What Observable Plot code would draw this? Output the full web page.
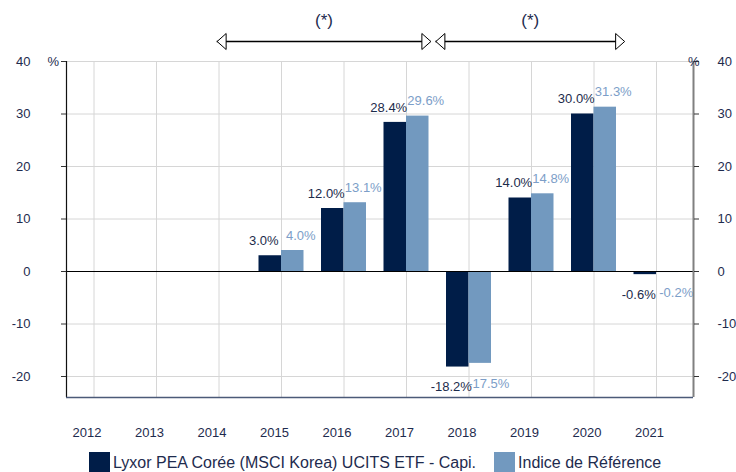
<!DOCTYPE html>
<html>
<head>
<meta charset="utf-8">
<script src="https://cdn.jsdelivr.net/npm/d3@7"></script>
<script src="https://cdn.jsdelivr.net/npm/@observablehq/plot@0.6"></script>
<style>
  html, body { margin: 0; padding: 0; background: #fff; overflow: hidden; }
  body { position: relative; width: 736px; height: 472px; font-family: "Liberation Sans", Arial, sans-serif; }
  #legend { position: absolute; left: 89px; top: 452px; display: flex; align-items: center; font-size: 16px; color: #1e2b4e; white-space: nowrap; }
  .sw { width: 21px; height: 22px; margin-right: 3px; }
  .item { display: flex; align-items: center; line-height: 22px; }
</style>
</head>
<body>
<div id="chart"></div>
<div id="legend"></div>
<script>
// ---- data ----
const years = [2012, 2013, 2014, 2015, 2016, 2017, 2018, 2019, 2020, 2021];
const fund = [null, null, null, 3.0, 12.0, 28.4, -18.2, 14.0, 30.0, -0.6];
const benchmark = [null, null, null, 4.0, 13.1, 29.6, -17.5, 14.8, 31.3, -0.2];
const seriesNames = ["Lyxor PEA Corée (MSCI Korea) UCITS ETF - Capi.", "Indice de Référence"];
const yTicks = [-20, -10, 0, 10, 20, 30, 40];
const yDomain = [-24, 40];
const xDomain = [2011.56, 2021.592];
const arrows = [
  {start: 2013.97, end: 2017.39, label: "(*)"},
  {start: 2017.47, end: 2020.49, label: "(*)"}
];

// ---- styles ----
const darkColor = "#001d48";
const lightColor = "#7299bf";
const darkText = "#1c2b4b";
const lightText = "#7c9ec8";
const navy = "#1e2b4e";
const barW = 0.36;

const rows = years.map((year, i) => ({year, fund: fund[i], benchmark: benchmark[i]}))
  .filter(d => d.fund != null);

const leftHead = {draw(ctx) { ctx.moveTo(0, 0); ctx.lineTo(9, -8); ctx.lineTo(9, 8); ctx.closePath(); }};
const rightHead = {draw(ctx) { ctx.moveTo(0, 0); ctx.lineTo(-9, -8); ctx.lineTo(-9, 8); ctx.closePath(); }};
const fmt = v => v.toFixed(1) + "%";
const tickFmt = d => String(d);

const chart = Plot.plot({
  width: 736,
  height: 445,
  marginTop: 61,
  marginBottom: 48,
  marginLeft: 66,
  marginRight: 43,
  style: {fontFamily: "'Liberation Sans', Arial, sans-serif", fontSize: "13px", background: "#fff"},
  x: {type: "linear", domain: xDomain, label: null},
  y: {domain: yDomain, label: null},
  marks: [
    Plot.gridY({ticks: yTicks, stroke: "#d6d6d6", strokeOpacity: 1}),
    Plot.gridX({ticks: years, stroke: "#d6d6d6", strokeOpacity: 1}),
    Plot.rect(rows, {x1: d => d.year - barW, x2: d => d.year, y1: d => 0, y2: "fund", fill: darkColor}),
    Plot.rect(rows, {x1: d => d.year, x2: d => d.year + barW, y1: d => 0, y2: "benchmark", fill: lightColor}),
    Plot.ruleY([0], {stroke: "#000", strokeWidth: 1}),
    Plot.ruleX([xDomain[0]], {y1: yDomain[0], y2: yDomain[1], stroke: "#111", strokeWidth: 1.2}),
    Plot.ruleX([xDomain[1]], {y1: yDomain[0], y2: yDomain[1], stroke: "#808080", strokeWidth: 2}),
    Plot.ruleY([yDomain[0]], {stroke: "#4b5a78", strokeWidth: 1.5}),
    Plot.axisY({anchor: "left", ticks: yTicks, tickFormat: tickFmt, tickSize: 5, tickPadding: 31, fill: navy, stroke: "#333", fontSize: 13}),
    Plot.axisY({anchor: "right", ticks: yTicks, tickFormat: tickFmt, tickSize: 5, tickPadding: 19, fill: navy, stroke: "#333", fontSize: 13}),
    Plot.axisX({ticks: years, tickFormat: tickFmt, tickSize: 0, tickPadding: 30, dx: -7, fill: navy, fontSize: 13}),
    Plot.text(["%"], {y: yDomain[1], frameAnchor: "left", dx: -19, text: d => d, fill: navy, fontSize: 13}),
    Plot.text(["%"], {y: yDomain[1], frameAnchor: "right", dx: 6, text: d => d, fill: navy, fontSize: 13}),
    // value labels
    Plot.text(rows, {filter: d => d.benchmark >= 0, x: d => d.year + barW / 2, y: "benchmark", dx: 8, dy: -15, text: d => fmt(d.benchmark), fill: lightText, fontSize: 13}),
    Plot.text(rows, {filter: d => d.benchmark < 0, x: d => d.year + barW / 2, y: "benchmark", dx: 8.5, dy: 20, text: d => fmt(d.benchmark), fill: lightText, fontSize: 13}),
    Plot.text(rows, {filter: d => d.fund >= 0, x: d => d.year - barW / 2, y: "fund", dx: -6.5, dy: -15, text: d => fmt(d.fund), fill: darkText, fontSize: 13}),
    Plot.text(rows, {filter: d => d.fund < 0, x: d => d.year - barW / 2, y: "fund", dx: -6.5, dy: 20, text: d => fmt(d.fund), fill: darkText, fontSize: 13}),
    // period arrows
    Plot.ruleY(arrows, {x1: "start", x2: "end", y: yDomain[1], dy: -20, stroke: "#000", strokeWidth: 1.5}),
    Plot.dot(arrows, {x: "start", y: yDomain[1], dy: -20, symbol: leftHead, fill: "#fff", stroke: "#000", strokeWidth: 1}),
    Plot.dot(arrows, {x: "end", y: yDomain[1], dy: -20, symbol: rightHead, fill: "#fff", stroke: "#000", strokeWidth: 1}),
    Plot.text(arrows, {x: d => (d.start + d.end) / 2, y: yDomain[1], dy: -41, text: "label", fill: navy, fontSize: 17})
  ]
});
document.getElementById("chart").appendChild(chart);

const legend = document.getElementById("legend");
[[seriesNames[0], darkColor], [seriesNames[1], lightColor]].forEach(([name, color], i) => {
  const item = document.createElement("div");
  item.className = "item";
  if (i > 0) item.style.marginLeft = "18px";
  const sw = document.createElement("div");
  sw.className = "sw";
  sw.style.background = color;
  const label = document.createElement("span");
  label.textContent = name;
  item.appendChild(sw);
  item.appendChild(label);
  legend.appendChild(item);
});
</script>
</body>
</html>
